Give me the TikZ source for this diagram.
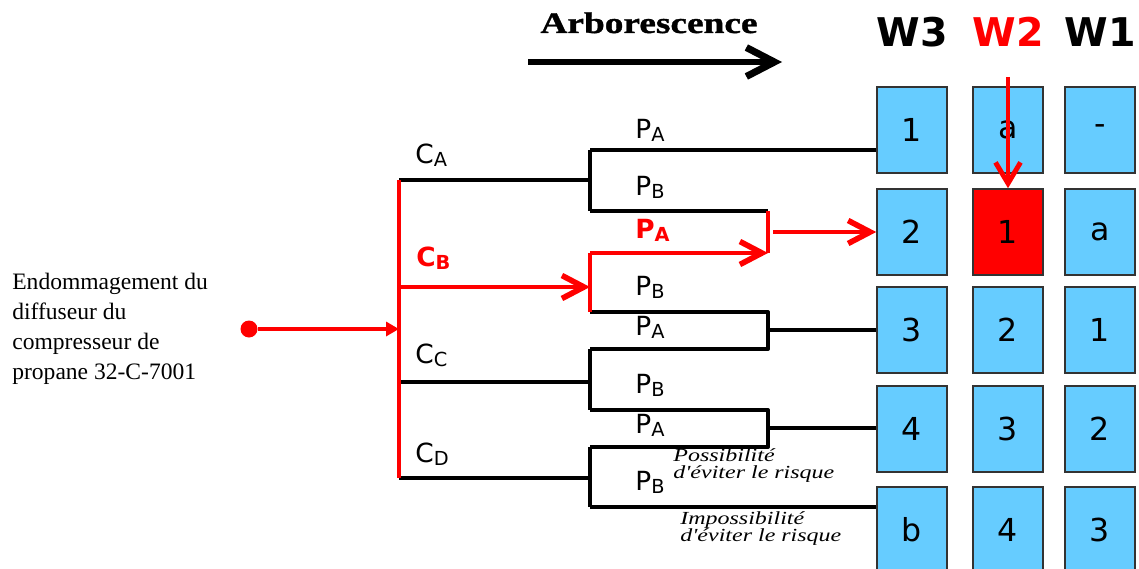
\documentclass[tikz,border=0pt]{standalone}
\usepackage{fontspec}
\setmainfont{Liberation Serif}
\setsansfont{DejaVu Sans}
\newfontfamily\widefont[FakeStretch=1.3]{Liberation Serif}
\newfontfamily\titlefont[FakeStretch=1.25, FakeBold=1.2]{Liberation Serif Bold}
\usetikzlibrary{arrows.meta}

\definecolor{cellblue}{HTML}{66CCFF}
\newcommand{\withsub}[2]{#1\raisebox{-.25ex}{\fontsize{11}{11}\selectfont #2}}

\begin{document}
\begin{tikzpicture}[x = .2mm, y = -.2mm,
        branch/.style = {line width = 2.2pt, line join = round},
        chosen/.style = {branch, color = red},
        barb/.style = {-{Straight Barb[length = 4.4mm, width = 4.6mm, line width = 3.2pt]}},
        cell/.style = {draw = black!80, line width = .9pt, fill = cellblue,
                       minimum width = 14mm, minimum height = 17.2mm, inner sep = 0pt,
                       font = \sffamily\fontsize{18}{18}\selectfont},
        lbl/.style = {anchor = base west, inner sep = 0pt,
                      font = \sffamily\fontsize{15}{15}\selectfont},
        wlbl/.style = {anchor = base, inner sep = 0pt,
                       font = \sffamily\bfseries\fontsize{22.5}{22.5}\selectfont},
        note/.style = {anchor = north west, inner sep = 0pt, align = left,
                       font = \widefont\itshape\fontsize{10.5}{9.8}\selectfont}]
        \useasboundingbox (0,0) rectangle (1139,568);

        % header
        \node[anchor = base, inner sep = 0pt,
              font = \titlefont\fontsize{17}{17}\selectfont] (title) at (649,33) {Arborescence};
        \coordinate (flow-start) at (528,62);
        \coordinate (flow-end) at (782,62);
        \draw[line width = 3pt, -{Straight Barb[length = 5.6mm, width = 5.8mm, line width = 4pt]}] (flow-start) -- (flow-end);

        \node[wlbl] (h3) at (912,47) {W3};
        \node[wlbl, red] (h2) at (1008,47) {W2};
        \node[wlbl] (h1) at (1100,47) {W1};

        % the grid
        \node[cell] (w3-1) at (912,130) {1};
        \node[cell] (w2-1) at (1008,130) {a};
        \node[cell] (w1-1) at (1100,130) {-};
        \node[cell] (w3-2) at (912,232) {2};
        \node[cell, fill = red] (w2-2) at (1008,232) {1};
        \node[cell] (w1-2) at (1100,232) {a};
        \node[cell] (w3-3) at (912,330) {3};
        \node[cell] (w2-3) at (1008,330) {2};
        \node[cell] (w1-3) at (1100,330) {1};
        \node[cell] (w3-4) at (912,429) {4};
        \node[cell] (w2-4) at (1008,429) {3};
        \node[cell] (w1-4) at (1100,429) {2};
        \node[cell] (w3-5) at (912,530) {b};
        \node[cell] (w2-5) at (1008,530) {4};
        \node[cell] (w1-5) at (1100,530) {3};

        \coordinate (drop) at (1008,77);
        \draw[red, line width = 1.8pt, -{Straight Barb[length = 4.2mm, width = 5mm, line width = 2.8pt]}] (drop) -- (w2-2.north);

        % event
        \node[anchor = west, align = left, inner sep = 0pt,
              font = \fontsize{13.4}{17}\selectfont] (event) at (12,329)
              {Endommagement du\\diffuseur du\\compresseur de\\propane 32-C-7001};
        \node[circle, fill = red, inner sep = 0pt, minimum size = 3.4mm] (start) at (249,329) {};

        % tree
        \coordinate (root) at (399,329);
        \coordinate (ca) at (399,180);
        \coordinate (cb) at (399,287);
        \coordinate (cc) at (399,382);
        \coordinate (cd) at (399,478);
        \coordinate (na) at (590,180);
        \coordinate (nb) at (590,287);
        \coordinate (nc) at (590,382);
        \coordinate (nd) at (590,478);
        \coordinate (na-a) at (590,150);
        \coordinate (na-b) at (590,211);
        \coordinate (nb-a) at (590,253);
        \coordinate (nb-b) at (590,312);
        \coordinate (nc-a) at (590,349);
        \coordinate (nc-b) at (590,410);
        \coordinate (nd-a) at (590,447);
        \coordinate (nd-b) at (590,507);
        \coordinate (m1) at (768,232);
        \coordinate (m2) at (768,330);
        \coordinate (m3) at (768,428);

        \draw[branch] (ca) -- (na);
        \draw[branch] (na-a) -- (na-b);
        \draw[branch] (na-a) -- (na-a -| w3-1.west);
        \draw[branch] (na-b) -- (na-b -| m1);
        \draw[branch] (nb-b) -- (nb-b -| m2) -- (nc-a -| m2) -- (nc-a);
        \draw[branch] (m2) -- (m2 -| w3-3.west);
        \draw[branch] (cc) -- (nc);
        \draw[branch] (nc-a) -- (nc-b);
        \draw[branch] (nc-b) -- (nc-b -| m3) -- (nd-a -| m3) -- (nd-a);
        \draw[branch] (m3) -- (m3 -| w3-4.west);
        \draw[branch] (cd) -- (nd);
        \draw[branch] (nd-a) -- (nd-b);
        \draw[branch] (nd-b) -- (nd-b -| w3-5.west);

        \draw[chosen] (ca) -- (cd);
        \draw[chosen, -{Triangle[length = 2.6mm, width = 2.8mm]}] (start) -- (root);
        \draw[chosen, barb] (cb) -- (nb);
        \draw[chosen] (nb-a) -- (nb-b);
        \draw[chosen, barb] (nb-a) -- (nb-a -| m1);
        \draw[chosen] (na-b -| m1) -- (nb-a -| m1);
        \draw[chosen, barb] ([xshift = 1mm] m1) -- (m1 -| w3-2.west);

        % labels
        \node[lbl] (lca) at (415,163) {\withsub{C}{A}};
        \node[lbl, red, font = \sffamily\bfseries\fontsize{15}{15}\selectfont] (lcb) at (416,266) {\withsub{C}{B}};
        \node[lbl] (lcc) at (415,363) {\withsub{C}{C}};
        \node[lbl] (lcd) at (415,462) {\withsub{C}{D}};

        \node[lbl] (pa1) at (635,138) {\withsub{P}{A}};
        \node[lbl] (pb1) at (635,195) {\withsub{P}{B}};
        \node[lbl, red, font = \sffamily\bfseries\fontsize{15}{15}\selectfont] (pa2) at (635,238) {\withsub{P}{A}};
        \node[lbl] (pb2) at (635,295) {\withsub{P}{B}};
        \node[lbl] (pa3) at (635,335) {\withsub{P}{A}};
        \node[lbl] (pb3) at (635,393) {\withsub{P}{B}};
        \node[lbl] (pa4) at (635,433) {\withsub{P}{A}};
        \node[lbl] (pb4) at (635,490) {\withsub{P}{B}};

        \node[note] (possible) at (673,448) {Possibilité\\d'éviter le risque};
        \node[note] (impossible) at (680,511) {Impossibilité\\d'éviter le risque};
      \end{tikzpicture}
\end{document}
